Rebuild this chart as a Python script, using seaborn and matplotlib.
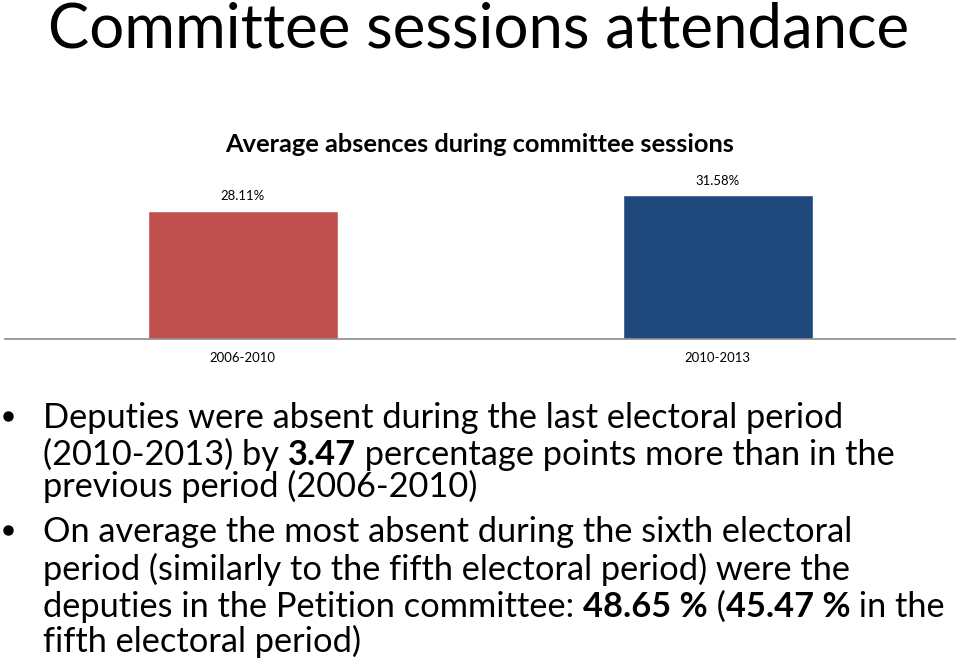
import matplotlib
matplotlib.use("Agg")
import matplotlib.pyplot as plt
import seaborn as sns
import pandas as pd
from matplotlib.font_manager import FontProperties
from matplotlib.lines import Line2D

# ---------------- data ----------------
periods = ["2006-2010", "2010-2013"]
absence_pct = [28.11, 31.58]
bar_colors = ["#C0504D", "#1F497D"]

page_title = "Committee sessions attendance"
chart_title = "Average absences during committee sessions"

bullet_1 = [
    [("Deputies were absent during the last electoral period", False)],
    [("(2010-2013) by ", False), ("3.47", True), (" percentage points more than in the", False)],
    [("previous period (2006-2010)", False)],
]
bullet_2 = [
    [("On average the most absent during the sixth electoral", False)],
    [("period (similarly to the fifth electoral period) were the", False)],
    [("deputies in the Petition committee: ", False), ("48.65 %", True), (" (", False),
     ("45.47 %", True), (" in the", False)],
    [("fifth electoral period)", False)],
]

# ---------------- style ----------------
FONT = "Lato"
sns.set_theme(style="white")
plt.rcParams["font.family"] = [FONT, "DejaVu Sans"]

W, H = 960, 665
fig = plt.figure(figsize=(W / 100, H / 100), dpi=100)
fig.patch.set_facecolor("white")
renderer = fig.canvas.get_renderer()


def text_width(s, size, weight="normal"):
    fp = FontProperties(family=[FONT, "DejaVu Sans"], size=size, weight=weight)
    w, _, _ = renderer.get_text_width_height_descent("|" + s + "|", fp, ismath=False)
    w0, _, _ = renderer.get_text_width_height_descent("||", fp, ismath=False)
    return w - w0


def runs_width(runs, size):
    return sum(text_width(s, size, "bold" if b else "normal") for s, b in runs)


def fit_size(s, target_px, weight="normal"):
    return 100.0 * target_px / text_width(s, 100, weight)


def px(x, y):
    return x / W, 1 - y / H


# ---------------- page title ----------------
title_size = fit_size(page_title, 862)
fig.text(*px(48, 47), page_title, fontsize=title_size, color="black",
         ha="left", va="baseline")

# ---------------- chart title ----------------
sub_size = fit_size(chart_title, 509, "bold")
fig.text(*px(480, 152), chart_title, fontsize=sub_size, fontweight="bold",
         color="black", ha="center", va="baseline")

# ---------------- bar chart ----------------
ymax = 35.0
scale = 144 / 31.58          # px per percent
ax_bottom = 339
ax_top = ax_bottom - ymax * scale
ax = fig.add_axes([5 / W, 1 - ax_bottom / H, 950 / W, (ax_bottom - ax_top) / H])
df = pd.DataFrame({"period": periods, "absence": absence_pct})
sns.barplot(data=df, x="period", y="absence", hue="period", palette=bar_colors,
            width=0.4, legend=False, ax=ax, saturation=1)
ax.set_xlim(-0.5, 1.5)
ax.set_ylim(0, ymax)
ax.set_xlabel("")
ax.set_ylabel("")
ax.set_yticks([])
for side in ["left", "right", "top"]:
    ax.spines[side].set_visible(False)
ax.spines["bottom"].set_color("#8C8C8C")
ax.spines["bottom"].set_linewidth(1.2)
ax.set_facecolor("none")

small_size = fit_size("2006-2010", 66)
ax.tick_params(axis="x", length=0, pad=9, labelsize=small_size, labelcolor="black")

for bar, v in zip(ax.patches, absence_pct):
    ax.annotate(f"{v:.2f}%", (bar.get_x() + bar.get_width() / 2, bar.get_height()),
                xytext=(0, 7.5), textcoords="offset points", ha="center",
                va="baseline", fontsize=small_size, color="black")

# ---------------- bullet text ----------------
text_x = 43
baselines_1 = [428, 465, 497]
baselines_2 = [542, 580, 617, 652]
right_ends = [859, 903, 478, 866, 873, 955, 385]
all_lines = bullet_1 + bullet_2
sizes = [100.0 * (r - text_x) / runs_width(runs, 100) for runs, r in zip(all_lines, right_ends)]
sizes_sorted = sorted(sizes)
body_size = min(sizes_sorted[len(sizes_sorted) // 2], min(sizes) * 1.0)


def draw_block(lines, baselines):
    for runs, yb in zip(lines, baselines):
        x = text_x
        for s, bold in runs:
            wgt = "bold" if bold else "normal"
            fig.text(*px(x, yb), s, fontsize=body_size, fontweight=wgt,
                     color="black", ha="left", va="baseline")
            x += text_width(s, body_size, wgt)
    bx, by = px(8, baselines[0] - 12)
    fig.add_artist(Line2D([bx], [by], marker="o", markersize=6.5, color="black",
                          transform=fig.transFigure))


draw_block(bullet_1, baselines_1)
draw_block(bullet_2, baselines_2)

fig.savefig("out.png", dpi=100, facecolor="white")
